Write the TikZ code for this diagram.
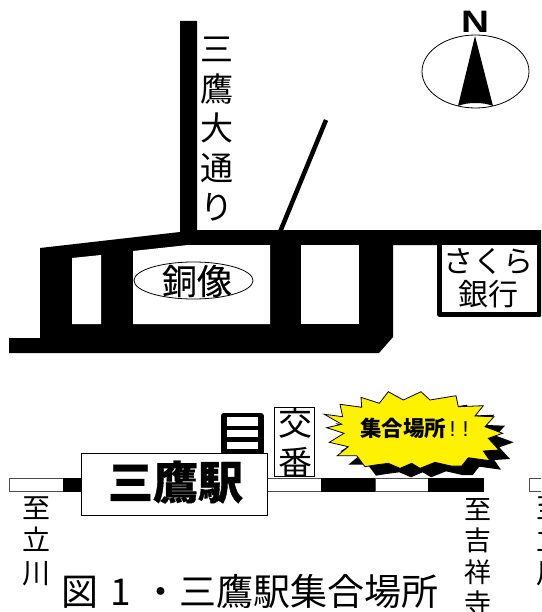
\documentclass[tikz,border=0pt]{standalone}
\usepackage{fontspec}
\usetikzlibrary{shapes.geometric}
\setmainfont{Noto Sans CJK JP}
\newfontfamily\latinb{Liberation Sans}
\tikzset{
  road/.style={fill=black,draw=none},
  hole/.style={fill=white,draw=none},
  txt/.style={inner sep=0pt,outer sep=0pt,align=center,text=black},
  thin box/.style={draw=black,line width=0.8pt,fill=white},
  trackw/.style={draw=black!70,line width=0.7pt,fill=white},
  trackb/.style={draw=black,line width=0.7pt,fill=black},
}
\newcommand{\fs}[2]{\fontsize{#1}{#2}\selectfont}
\begin{document}
\begin{tikzpicture}[x=1pt,y=-1pt]
\useasboundingbox (0,0) rectangle (541,612);
\clip (0,0) rectangle (541,612);
\fill[white] (0,0) rectangle (541,612);
% roads
\fill[road] (180,21) -- (197,21) -- (197,230) -- (541,230) -- (541,245) -- (393,245) -- (393,337) -- (379,353) -- (9,353) -- (9,338) -- (40,338) -- (40,248) -- (180,232) -- cycle;
\fill[hole] (72,258) -- (101,255) -- (101,324) -- (72,324) -- cycle;
\fill[hole] (133,251) -- (188,245) -- (270,245) -- (270,324) -- (133,324) -- cycle;
\fill[hole] (301,245) -- (359,245) -- (359,324) -- (301,324) -- cycle;
\coordinate (diagA) at (280,232);
\coordinate (diagB) at (326,120);
\draw[line width=4.5pt] (diagA) -- (diagB);
% statue
\node[ellipse,draw=black,line width=0.8pt,minimum width=119pt,minimum height=37pt,inner sep=0pt] (statue) at (193.5,280.5) {};
\node[txt,font=\fs{35}{35}\addfontfeature{FakeBold=0.3}] (statuet) at (197,281) {銅像};
% street label
\node[txt,font=\fs{33}{39.5}] (street) at (217,129.5) {三\\鷹\\大\\通\\り};
% bank
\draw[line width=5pt,line join=round,fill=white] (439.5,245) -- (439.5,314.5) -- (539.5,314.5) -- (539.5,245);
\fill[road] (437,230) rectangle (541,245);
\node[txt,font=\fs{30}{33}] (bank) at (488,278) {さくら\\銀行};
% north
\node[ellipse,draw=black,line width=0.8pt,minimum width=107pt,minimum height=73pt,inner sep=0pt] (compass) at (475.5,71.5) {};
\fill (475,36) -- (493,106) .. controls (484,102) and (467,102) .. (458,106) -- cycle;
\node[txt,font=\latinb\bfseries\fs{31}{31},xscale=1.25] (north) at (475,22) {N};
% shadow + burst
\def\burstpath{(324.3,414.3) -- (342.7,416.7) -- (340,404.3) -- (361.7,407.3) -- (361,397.3) -- (379.3,403.3) -- (388.3,391.7) -- (403.3,400) -- (421,391.7) -- (430,400) -- (456,395.7) -- (458.3,406.7) -- (483.3,405.7) -- (475,416) -- (494,416.7) -- (485,426.7) -- (502.7,433.3) -- (488.3,438.3) -- (499,450) -- (483.3,451) -- (490,460.7) -- (468.3,457.7) -- (461.7,466) -- (451,466) -- (435,462.3) -- (420,468.3) -- (411.7,463.3) -- (400,468.3) -- (388.3,463.3) -- (375,465) -- (365,466.7) -- (356.7,455.7) -- (337.3,455.7) -- (348.3,446.7) -- (329.3,442.3) -- (344,433.3) -- (326.7,427.7) -- (341.7,424.3) -- cycle}
\fill[black,shift={(11pt,-9pt)}] \burstpath;
\draw[fill=yellow,draw=black,line width=0.8pt,line join=miter] \burstpath;
\node[txt,anchor=west,font=\fs{21.5}{21.5}] (meet) at (360,428) {\bfseries 集合場所\mdseries\,\latinb !\,\,!};
% stairs
\draw[line width=4.2pt] (224,415) -- (261,415) (224,428) -- (261,428) (224,439.5) -- (261,439.5) (224,451) -- (261,451);
\draw[line width=6pt,line cap=round] (224,416) -- (224,452) (261,416) -- (261,452);
% koban
\node[thin box,minimum width=40pt,minimum height=69pt,inner sep=0pt] (koban) at (294,441.5) {};
\begin{scope}
\clip (274,407) rectangle (314,476);
\node[txt,font=\fs{34}{40}] (kobant) at (295,442.5) {交\\番};
\end{scope}
% tracks
\draw[trackw] (9,478) rectangle (63,491);
\draw[trackb] (63,478) rectangle (81,491);
\draw[trackw] (267,478) rectangle (321,491);
\draw[trackb] (321,478) rectangle (375,491);
\draw[trackw] (375,478) rectangle (428,491);
\draw[trackb] (428,478) rectangle (483,491);
\draw[trackw] (529,478) rectangle (545,491);
% station
\node[thin box,minimum width=186pt,minimum height=62pt,inner sep=0pt] (station) at (174,484) {};
\node[txt,font=\bfseries\fs{45}{45}\addfontfeature{FakeBold=0.8}] (stationt) at (175.5,482) {三鷹駅};
% direction labels
\node[txt,font=\fs{28}{32.5}] (tachi) at (36.5,541) {至\\立\\川};
\node[txt,font=\fs{27}{31.5}] (kichi) at (478,557) {至\\吉\\祥\\寺};
\node[txt,font=\fs{28}{32.5}] (tachi2) at (550,541) {至\\立\\川};
% caption
\node[txt,anchor=west,font=\fs{37}{37}] (caption) at (61,591) {図\hspace{4pt} 1 \hspace{3pt}・三鷹駅集合場所};
\end{tikzpicture}
\end{document}
